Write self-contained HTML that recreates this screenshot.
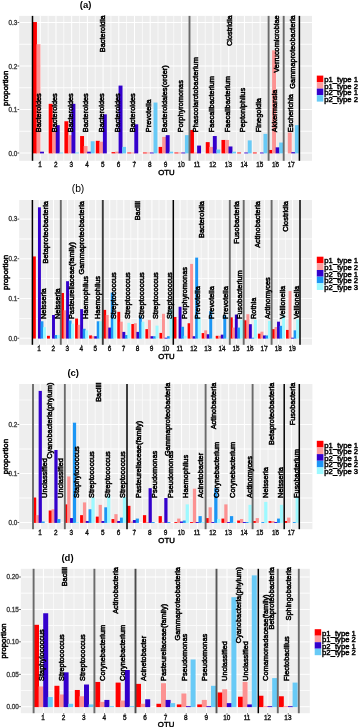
<!DOCTYPE html>
<html><head><meta charset="utf-8"><title>OTU proportions</title>
<style>
html,body{margin:0;padding:0;background:#fff;}
body{width:358px;height:727px;overflow:hidden;font-family:"Liberation Sans",sans-serif;}
svg{display:block;will-change:transform;}
svg text{font-family:"Liberation Sans",sans-serif;}
</style></head><body>
<svg width="358" height="727" viewBox="0 0 358 727">
<rect x="0" y="0" width="358" height="727" fill="#FFFFFF"/>
<!-- panel (a) -->
<rect x="19.2" y="15.9" width="292.8" height="144.9" fill="#ECECEC"/>
<rect x="19.2" y="130.85" width="292.8" height="0.8" fill="#FBFBFB"/>
<rect x="19.2" y="130.85" width="292.8" height="0.8" fill="#FBFBFB"/>
<rect x="19.2" y="87.35" width="292.8" height="0.8" fill="#FBFBFB"/>
<rect x="19.2" y="87.35" width="292.8" height="0.8" fill="#FBFBFB"/>
<rect x="19.2" y="43.85" width="292.8" height="0.8" fill="#FBFBFB"/>
<rect x="19.2" y="43.85" width="292.8" height="0.8" fill="#FBFBFB"/>
<rect x="32" y="15.9" width="0.8" height="144.9" fill="#FBFBFB"/>
<rect x="47.71" y="15.9" width="0.8" height="144.9" fill="#FBFBFB"/>
<rect x="63.41" y="15.9" width="0.8" height="144.9" fill="#FBFBFB"/>
<rect x="79.12" y="15.9" width="0.8" height="144.9" fill="#FBFBFB"/>
<rect x="94.82" y="15.9" width="0.8" height="144.9" fill="#FBFBFB"/>
<rect x="110.53" y="15.9" width="0.8" height="144.9" fill="#FBFBFB"/>
<rect x="126.24" y="15.9" width="0.8" height="144.9" fill="#FBFBFB"/>
<rect x="141.94" y="15.9" width="0.8" height="144.9" fill="#FBFBFB"/>
<rect x="157.65" y="15.9" width="0.8" height="144.9" fill="#FBFBFB"/>
<rect x="173.35" y="15.9" width="0.8" height="144.9" fill="#FBFBFB"/>
<rect x="189.06" y="15.9" width="0.8" height="144.9" fill="#FBFBFB"/>
<rect x="204.76" y="15.9" width="0.8" height="144.9" fill="#FBFBFB"/>
<rect x="220.47" y="15.9" width="0.8" height="144.9" fill="#FBFBFB"/>
<rect x="236.18" y="15.9" width="0.8" height="144.9" fill="#FBFBFB"/>
<rect x="251.88" y="15.9" width="0.8" height="144.9" fill="#FBFBFB"/>
<rect x="267.59" y="15.9" width="0.8" height="144.9" fill="#FBFBFB"/>
<rect x="283.29" y="15.9" width="0.8" height="144.9" fill="#FBFBFB"/>
<rect x="299" y="15.9" width="0.8" height="144.9" fill="#FBFBFB"/>
<rect x="19.2" y="152.5" width="292.8" height="1" fill="#FFFFFF"/>
<rect x="19.2" y="109" width="292.8" height="1" fill="#FFFFFF"/>
<rect x="19.2" y="65.5" width="292.8" height="1" fill="#FFFFFF"/>
<rect x="19.2" y="22" width="292.8" height="1" fill="#FFFFFF"/>
<rect x="39.75" y="15.9" width="1" height="144.9" fill="#FFFFFF"/>
<rect x="55.46" y="15.9" width="1" height="144.9" fill="#FFFFFF"/>
<rect x="71.16" y="15.9" width="1" height="144.9" fill="#FFFFFF"/>
<rect x="86.87" y="15.9" width="1" height="144.9" fill="#FFFFFF"/>
<rect x="102.58" y="15.9" width="1" height="144.9" fill="#FFFFFF"/>
<rect x="118.28" y="15.9" width="1" height="144.9" fill="#FFFFFF"/>
<rect x="133.99" y="15.9" width="1" height="144.9" fill="#FFFFFF"/>
<rect x="149.69" y="15.9" width="1" height="144.9" fill="#FFFFFF"/>
<rect x="165.4" y="15.9" width="1" height="144.9" fill="#FFFFFF"/>
<rect x="181.11" y="15.9" width="1" height="144.9" fill="#FFFFFF"/>
<rect x="196.81" y="15.9" width="1" height="144.9" fill="#FFFFFF"/>
<rect x="212.52" y="15.9" width="1" height="144.9" fill="#FFFFFF"/>
<rect x="228.22" y="15.9" width="1" height="144.9" fill="#FFFFFF"/>
<rect x="243.93" y="15.9" width="1" height="144.9" fill="#FFFFFF"/>
<rect x="259.64" y="15.9" width="1" height="144.9" fill="#FFFFFF"/>
<rect x="275.34" y="15.9" width="1" height="144.9" fill="#FFFFFF"/>
<rect x="291.05" y="15.9" width="1" height="144.9" fill="#FFFFFF"/>
<rect x="32.99" y="22.06" width="3.93" height="131.34" fill="#FF0000"/>
<rect x="36.52" y="44.25" width="3.93" height="109.15" fill="#FC9292"/>
<rect x="40.05" y="151.69" width="3.93" height="1.71" fill="#3300CC"/>
<rect x="48.69" y="103.84" width="3.93" height="49.55" fill="#FF0000"/>
<rect x="52.22" y="131.25" width="3.93" height="22.15" fill="#FC9292"/>
<rect x="55.76" y="125.16" width="3.93" height="28.24" fill="#3300CC"/>
<rect x="59.29" y="152.5" width="3.93" height="0.9" fill="#68CAF6"/>
<rect x="64.4" y="121.25" width="3.93" height="32.15" fill="#FF0000"/>
<rect x="67.93" y="135.16" width="3.93" height="18.24" fill="#FC9292"/>
<rect x="71.46" y="103.84" width="3.93" height="49.55" fill="#3300CC"/>
<rect x="75" y="152.5" width="3.93" height="0.9" fill="#68CAF6"/>
<rect x="80.1" y="136.03" width="3.93" height="17.37" fill="#FF0000"/>
<rect x="83.64" y="146.04" width="3.93" height="7.36" fill="#FC9292"/>
<rect x="87.17" y="151.69" width="3.93" height="1.71" fill="#3300CC"/>
<rect x="90.7" y="141.25" width="3.93" height="12.15" fill="#68CAF6"/>
<rect x="95.81" y="140.82" width="3.93" height="12.58" fill="#FF0000"/>
<rect x="99.34" y="141.69" width="3.93" height="11.71" fill="#FC9292"/>
<rect x="102.88" y="114.28" width="3.93" height="39.12" fill="#3300CC"/>
<rect x="111.51" y="152.13" width="3.93" height="1.27" fill="#FF0000"/>
<rect x="115.05" y="151.69" width="3.93" height="1.71" fill="#FC9292"/>
<rect x="118.58" y="85.58" width="3.93" height="67.83" fill="#3300CC"/>
<rect x="122.12" y="146.91" width="3.93" height="6.49" fill="#68CAF6"/>
<rect x="127.22" y="152.5" width="3.93" height="0.9" fill="#FF0000"/>
<rect x="130.75" y="152.5" width="3.93" height="0.9" fill="#FC9292"/>
<rect x="134.29" y="124.29" width="3.93" height="29.11" fill="#3300CC"/>
<rect x="142.93" y="152.5" width="3.93" height="0.9" fill="#FF0000"/>
<rect x="146.46" y="152.5" width="3.93" height="0.9" fill="#FC9292"/>
<rect x="149.99" y="152.5" width="3.93" height="0.9" fill="#3300CC"/>
<rect x="153.53" y="102.54" width="3.93" height="50.86" fill="#68CAF6"/>
<rect x="158.63" y="146.91" width="3.93" height="6.49" fill="#FF0000"/>
<rect x="162.17" y="136.91" width="3.93" height="16.49" fill="#FC9292"/>
<rect x="165.7" y="135.16" width="3.93" height="18.24" fill="#3300CC"/>
<rect x="169.23" y="151.69" width="3.93" height="1.71" fill="#68CAF6"/>
<rect x="174.34" y="152.5" width="3.93" height="0.9" fill="#FF0000"/>
<rect x="177.87" y="152.5" width="3.93" height="0.9" fill="#FC9292"/>
<rect x="181.41" y="152.5" width="3.93" height="0.9" fill="#3300CC"/>
<rect x="184.94" y="135.16" width="3.93" height="18.24" fill="#68CAF6"/>
<rect x="190.04" y="129.94" width="3.93" height="23.46" fill="#FF0000"/>
<rect x="193.58" y="152.5" width="3.93" height="0.9" fill="#FC9292"/>
<rect x="197.11" y="145.6" width="3.93" height="7.8" fill="#3300CC"/>
<rect x="205.75" y="142.12" width="3.93" height="11.28" fill="#FF0000"/>
<rect x="209.28" y="146.91" width="3.93" height="6.49" fill="#FC9292"/>
<rect x="212.82" y="136.03" width="3.93" height="17.37" fill="#3300CC"/>
<rect x="216.35" y="149.52" width="3.93" height="3.88" fill="#68CAF6"/>
<rect x="221.46" y="139.95" width="3.93" height="13.45" fill="#FF0000"/>
<rect x="224.99" y="139.95" width="3.93" height="13.45" fill="#FC9292"/>
<rect x="228.52" y="146.47" width="3.93" height="6.93" fill="#3300CC"/>
<rect x="232.06" y="151.69" width="3.93" height="1.71" fill="#68CAF6"/>
<rect x="237.16" y="152.5" width="3.93" height="0.9" fill="#FF0000"/>
<rect x="244.23" y="152.5" width="3.93" height="0.9" fill="#3300CC"/>
<rect x="247.76" y="140.38" width="3.93" height="13.02" fill="#68CAF6"/>
<rect x="252.87" y="152.5" width="3.93" height="0.9" fill="#FF0000"/>
<rect x="259.94" y="152.5" width="3.93" height="0.9" fill="#3300CC"/>
<rect x="263.47" y="133.86" width="3.93" height="19.54" fill="#68CAF6"/>
<rect x="268.57" y="149.96" width="3.93" height="3.44" fill="#FF0000"/>
<rect x="272.11" y="50.34" width="3.93" height="103.06" fill="#FC9292"/>
<rect x="275.64" y="147.34" width="3.93" height="6.06" fill="#3300CC"/>
<rect x="279.18" y="142.56" width="3.93" height="10.84" fill="#68CAF6"/>
<rect x="287.81" y="132.56" width="3.93" height="20.84" fill="#FC9292"/>
<rect x="291.35" y="152.13" width="3.93" height="1.27" fill="#3300CC"/>
<rect x="294.88" y="125.16" width="3.93" height="28.24" fill="#68CAF6"/>
<rect x="31.75" y="15.9" width="1.5" height="144.9" fill="#000000"/>
<rect x="188.55" y="15.9" width="1.9" height="144.9" fill="#6A6A6A"/>
<rect x="267.65" y="15.9" width="1.9" height="144.9" fill="#6A6A6A"/>
<rect x="282.75" y="15.9" width="1.9" height="144.9" fill="#6A6A6A"/>
<rect x="298.65" y="15.9" width="1.5" height="144.9" fill="#000000"/>
<text transform="translate(38.55 132.15) rotate(-90)" text-anchor="start" font-size="7.38" fill="#000" stroke="#000" stroke-width="0.5" dy="0.36em">Bacteroides</text>
<text transform="translate(54.26 132.15) rotate(-90)" text-anchor="start" font-size="7.38" fill="#000" stroke="#000" stroke-width="0.5" dy="0.36em">Bacteroides</text>
<text transform="translate(69.96 132.15) rotate(-90)" text-anchor="start" font-size="7.38" fill="#000" stroke="#000" stroke-width="0.5" dy="0.36em">Bacteroides</text>
<text transform="translate(85.67 132.15) rotate(-90)" text-anchor="start" font-size="7.38" fill="#000" stroke="#000" stroke-width="0.5" dy="0.36em">Bacteroides</text>
<text transform="translate(101.38 132.15) rotate(-90)" text-anchor="start" font-size="7.38" fill="#000" stroke="#000" stroke-width="0.5" dy="0.36em">Bacteroides</text>
<text transform="translate(117.08 132.15) rotate(-90)" text-anchor="start" font-size="7.38" fill="#000" stroke="#000" stroke-width="0.5" dy="0.36em">Bacteroides</text>
<text transform="translate(132.79 132.15) rotate(-90)" text-anchor="start" font-size="7.38" fill="#000" stroke="#000" stroke-width="0.5" dy="0.36em">Bacteroides</text>
<text transform="translate(148.49 132.15) rotate(-90)" text-anchor="start" font-size="7.38" fill="#000" stroke="#000" stroke-width="0.5" dy="0.36em">Prevotella</text>
<text transform="translate(164.2 132.15) rotate(-90)" text-anchor="start" font-size="7.38" fill="#000" stroke="#000" stroke-width="0.5" dy="0.36em">Bacteroidales(order)</text>
<text transform="translate(179.91 132.15) rotate(-90)" text-anchor="start" font-size="7.38" fill="#000" stroke="#000" stroke-width="0.5" dy="0.36em">Porphyromonas</text>
<text transform="translate(195.61 132.15) rotate(-90)" text-anchor="start" font-size="7.38" fill="#000" stroke="#000" stroke-width="0.5" dy="0.36em">Phascolarctobacterium</text>
<text transform="translate(211.32 132.15) rotate(-90)" text-anchor="start" font-size="7.38" fill="#000" stroke="#000" stroke-width="0.5" dy="0.36em">Faecalibacterium</text>
<text transform="translate(227.02 132.15) rotate(-90)" text-anchor="start" font-size="7.38" fill="#000" stroke="#000" stroke-width="0.5" dy="0.36em">Faecalibacterium</text>
<text transform="translate(242.73 132.15) rotate(-90)" text-anchor="start" font-size="7.38" fill="#000" stroke="#000" stroke-width="0.5" dy="0.36em">Peptoniphilus</text>
<text transform="translate(258.44 132.15) rotate(-90)" text-anchor="start" font-size="7.38" fill="#000" stroke="#000" stroke-width="0.5" dy="0.36em">Finegoldia</text>
<text transform="translate(274.14 132.15) rotate(-90)" text-anchor="start" font-size="7.38" fill="#000" stroke="#000" stroke-width="0.5" dy="0.36em">Akkermansia</text>
<text transform="translate(289.85 132.15) rotate(-90)" text-anchor="start" font-size="7.38" fill="#000" stroke="#000" stroke-width="0.5" dy="0.36em">Escherichia</text>
<text transform="translate(102.8 15.3) rotate(-90)" text-anchor="end" font-size="7.38" fill="#000" stroke="#000" stroke-width="0.5" dy="0.36em">Bacteroidia</text>
<text transform="translate(229.3 15.3) rotate(-90)" text-anchor="end" font-size="7.38" fill="#000" stroke="#000" stroke-width="0.5" dy="0.36em">Clostridia</text>
<text transform="translate(275.9 15.3) rotate(-90)" text-anchor="end" font-size="7.38" fill="#000" stroke="#000" stroke-width="0.5" dy="0.36em">Verrucomicrobiae</text>
<text transform="translate(292.2 15.3) rotate(-90)" text-anchor="end" font-size="7.38" fill="#000" stroke="#000" stroke-width="0.5" dy="0.36em">Gammaproteobacteria</text>
<text x="17.3" y="153.6" text-anchor="end" font-size="6.4" fill="#444" stroke="#444" stroke-width="0.35" dy="0.36em">0.0</text>
<rect x="17.5" y="152.6" width="1.7" height="0.8" fill="#333"/>
<text x="17.3" y="110.1" text-anchor="end" font-size="6.4" fill="#444" stroke="#444" stroke-width="0.35" dy="0.36em">0.1</text>
<rect x="17.5" y="109.1" width="1.7" height="0.8" fill="#333"/>
<text x="17.3" y="66.6" text-anchor="end" font-size="6.4" fill="#444" stroke="#444" stroke-width="0.35" dy="0.36em">0.2</text>
<rect x="17.5" y="65.6" width="1.7" height="0.8" fill="#333"/>
<text x="17.3" y="23.1" text-anchor="end" font-size="6.4" fill="#444" stroke="#444" stroke-width="0.35" dy="0.36em">0.3</text>
<rect x="17.5" y="22.1" width="1.7" height="0.8" fill="#333"/>
<text x="39.95" y="164.4" text-anchor="middle" font-size="6.4" fill="#111" stroke="#111" stroke-width="0.35" dy="0.36em">1</text>
<rect x="39.85" y="160.8" width="0.8" height="1.5" fill="#333"/>
<text x="55.66" y="164.4" text-anchor="middle" font-size="6.4" fill="#111" stroke="#111" stroke-width="0.35" dy="0.36em">2</text>
<rect x="55.56" y="160.8" width="0.8" height="1.5" fill="#333"/>
<text x="71.36" y="164.4" text-anchor="middle" font-size="6.4" fill="#111" stroke="#111" stroke-width="0.35" dy="0.36em">3</text>
<rect x="71.26" y="160.8" width="0.8" height="1.5" fill="#333"/>
<text x="87.07" y="164.4" text-anchor="middle" font-size="6.4" fill="#111" stroke="#111" stroke-width="0.35" dy="0.36em">4</text>
<rect x="86.97" y="160.8" width="0.8" height="1.5" fill="#333"/>
<text x="102.78" y="164.4" text-anchor="middle" font-size="6.4" fill="#111" stroke="#111" stroke-width="0.35" dy="0.36em">5</text>
<rect x="102.68" y="160.8" width="0.8" height="1.5" fill="#333"/>
<text x="118.48" y="164.4" text-anchor="middle" font-size="6.4" fill="#111" stroke="#111" stroke-width="0.35" dy="0.36em">6</text>
<rect x="118.38" y="160.8" width="0.8" height="1.5" fill="#333"/>
<text x="134.19" y="164.4" text-anchor="middle" font-size="6.4" fill="#111" stroke="#111" stroke-width="0.35" dy="0.36em">7</text>
<rect x="134.09" y="160.8" width="0.8" height="1.5" fill="#333"/>
<text x="149.89" y="164.4" text-anchor="middle" font-size="6.4" fill="#111" stroke="#111" stroke-width="0.35" dy="0.36em">8</text>
<rect x="149.79" y="160.8" width="0.8" height="1.5" fill="#333"/>
<text x="165.6" y="164.4" text-anchor="middle" font-size="6.4" fill="#111" stroke="#111" stroke-width="0.35" dy="0.36em">9</text>
<rect x="165.5" y="160.8" width="0.8" height="1.5" fill="#333"/>
<text x="181.31" y="164.4" text-anchor="middle" font-size="6.4" fill="#111" stroke="#111" stroke-width="0.35" dy="0.36em">10</text>
<rect x="181.21" y="160.8" width="0.8" height="1.5" fill="#333"/>
<text x="197.01" y="164.4" text-anchor="middle" font-size="6.4" fill="#111" stroke="#111" stroke-width="0.35" dy="0.36em">11</text>
<rect x="196.91" y="160.8" width="0.8" height="1.5" fill="#333"/>
<text x="212.72" y="164.4" text-anchor="middle" font-size="6.4" fill="#111" stroke="#111" stroke-width="0.35" dy="0.36em">12</text>
<rect x="212.62" y="160.8" width="0.8" height="1.5" fill="#333"/>
<text x="228.42" y="164.4" text-anchor="middle" font-size="6.4" fill="#111" stroke="#111" stroke-width="0.35" dy="0.36em">13</text>
<rect x="228.32" y="160.8" width="0.8" height="1.5" fill="#333"/>
<text x="244.13" y="164.4" text-anchor="middle" font-size="6.4" fill="#111" stroke="#111" stroke-width="0.35" dy="0.36em">14</text>
<rect x="244.03" y="160.8" width="0.8" height="1.5" fill="#333"/>
<text x="259.84" y="164.4" text-anchor="middle" font-size="6.4" fill="#111" stroke="#111" stroke-width="0.35" dy="0.36em">15</text>
<rect x="259.74" y="160.8" width="0.8" height="1.5" fill="#333"/>
<text x="275.54" y="164.4" text-anchor="middle" font-size="6.4" fill="#111" stroke="#111" stroke-width="0.35" dy="0.36em">16</text>
<rect x="275.44" y="160.8" width="0.8" height="1.5" fill="#333"/>
<text x="291.25" y="164.4" text-anchor="middle" font-size="6.4" fill="#111" stroke="#111" stroke-width="0.35" dy="0.36em">17</text>
<rect x="291.15" y="160.8" width="0.8" height="1.5" fill="#333"/>
<text x="166.4" y="171.7" text-anchor="middle" font-size="7.8" fill="#000" stroke="#000" stroke-width="0.45" dy="0.36em">OTU</text>
<text transform="translate(5.2 88.35) rotate(-90)" text-anchor="middle" font-size="7.8" fill="#000" stroke="#000" stroke-width="0.5" dy="0.36em">proportion</text>
<text x="85.6" y="5" text-anchor="middle" font-family="'Liberation Serif', serif" font-weight="bold" font-size="9.5" dy="0.33em">(a)</text>
<rect x="316.8" y="75.6" width="6.5" height="6.5" fill="#FF0000"/>
<text x="324.2" y="79.45" text-anchor="start" font-size="7.7" fill="#000" stroke="#000" stroke-width="0.45" dy="0.36em">p1_type 1</text>
<rect x="316.8" y="82.1" width="6.5" height="6.5" fill="#FF9E9E"/>
<text x="324.2" y="85.95" text-anchor="start" font-size="7.7" fill="#000" stroke="#000" stroke-width="0.45" dy="0.36em">p1_type 2</text>
<rect x="316.8" y="88.6" width="6.5" height="6.5" fill="#3300CC"/>
<text x="324.2" y="92.45" text-anchor="start" font-size="7.7" fill="#000" stroke="#000" stroke-width="0.45" dy="0.36em">p2_type 1</text>
<rect x="316.8" y="95.1" width="6.5" height="6.5" fill="#68CAF6"/>
<text x="324.2" y="98.95" text-anchor="start" font-size="7.7" fill="#000" stroke="#000" stroke-width="0.45" dy="0.36em">p2_type 2</text>
<!-- panel (b) -->
<rect x="19.2" y="200" width="292.8" height="144.8" fill="#EEEEEE"/>
<rect x="19.2" y="317.95" width="292.8" height="0.8" fill="#FBFBFB"/>
<rect x="19.2" y="317.95" width="292.8" height="0.8" fill="#FBFBFB"/>
<rect x="19.2" y="278.25" width="292.8" height="0.8" fill="#FBFBFB"/>
<rect x="19.2" y="278.25" width="292.8" height="0.8" fill="#FBFBFB"/>
<rect x="19.2" y="238.55" width="292.8" height="0.8" fill="#FBFBFB"/>
<rect x="19.2" y="238.55" width="292.8" height="0.8" fill="#FBFBFB"/>
<rect x="32" y="200" width="0.8" height="144.8" fill="#FBFBFB"/>
<rect x="46.06" y="200" width="0.8" height="144.8" fill="#FBFBFB"/>
<rect x="60.13" y="200" width="0.8" height="144.8" fill="#FBFBFB"/>
<rect x="74.19" y="200" width="0.8" height="144.8" fill="#FBFBFB"/>
<rect x="88.25" y="200" width="0.8" height="144.8" fill="#FBFBFB"/>
<rect x="102.32" y="200" width="0.8" height="144.8" fill="#FBFBFB"/>
<rect x="116.38" y="200" width="0.8" height="144.8" fill="#FBFBFB"/>
<rect x="130.44" y="200" width="0.8" height="144.8" fill="#FBFBFB"/>
<rect x="144.51" y="200" width="0.8" height="144.8" fill="#FBFBFB"/>
<rect x="158.57" y="200" width="0.8" height="144.8" fill="#FBFBFB"/>
<rect x="172.63" y="200" width="0.8" height="144.8" fill="#FBFBFB"/>
<rect x="186.69" y="200" width="0.8" height="144.8" fill="#FBFBFB"/>
<rect x="200.76" y="200" width="0.8" height="144.8" fill="#FBFBFB"/>
<rect x="214.82" y="200" width="0.8" height="144.8" fill="#FBFBFB"/>
<rect x="228.88" y="200" width="0.8" height="144.8" fill="#FBFBFB"/>
<rect x="242.95" y="200" width="0.8" height="144.8" fill="#FBFBFB"/>
<rect x="257.01" y="200" width="0.8" height="144.8" fill="#FBFBFB"/>
<rect x="271.07" y="200" width="0.8" height="144.8" fill="#FBFBFB"/>
<rect x="285.14" y="200" width="0.8" height="144.8" fill="#FBFBFB"/>
<rect x="299.2" y="200" width="0.8" height="144.8" fill="#FBFBFB"/>
<rect x="19.2" y="337.7" width="292.8" height="1" fill="#FFFFFF"/>
<rect x="19.2" y="298" width="292.8" height="1" fill="#FFFFFF"/>
<rect x="19.2" y="258.3" width="292.8" height="1" fill="#FFFFFF"/>
<rect x="19.2" y="218.6" width="292.8" height="1" fill="#FFFFFF"/>
<rect x="38.93" y="200" width="1" height="144.8" fill="#FFFFFF"/>
<rect x="52.99" y="200" width="1" height="144.8" fill="#FFFFFF"/>
<rect x="67.06" y="200" width="1" height="144.8" fill="#FFFFFF"/>
<rect x="81.12" y="200" width="1" height="144.8" fill="#FFFFFF"/>
<rect x="95.18" y="200" width="1" height="144.8" fill="#FFFFFF"/>
<rect x="109.25" y="200" width="1" height="144.8" fill="#FFFFFF"/>
<rect x="123.31" y="200" width="1" height="144.8" fill="#FFFFFF"/>
<rect x="137.37" y="200" width="1" height="144.8" fill="#FFFFFF"/>
<rect x="151.44" y="200" width="1" height="144.8" fill="#FFFFFF"/>
<rect x="165.5" y="200" width="1" height="144.8" fill="#FFFFFF"/>
<rect x="179.56" y="200" width="1" height="144.8" fill="#FFFFFF"/>
<rect x="193.63" y="200" width="1" height="144.8" fill="#FFFFFF"/>
<rect x="207.69" y="200" width="1" height="144.8" fill="#FFFFFF"/>
<rect x="221.75" y="200" width="1" height="144.8" fill="#FFFFFF"/>
<rect x="235.82" y="200" width="1" height="144.8" fill="#FFFFFF"/>
<rect x="249.88" y="200" width="1" height="144.8" fill="#FFFFFF"/>
<rect x="263.94" y="200" width="1" height="144.8" fill="#FFFFFF"/>
<rect x="278.01" y="200" width="1" height="144.8" fill="#FFFFFF"/>
<rect x="292.07" y="200" width="1" height="144.8" fill="#FFFFFF"/>
<rect x="32.9" y="256.44" width="2.93" height="82.16" fill="#FF0000"/>
<rect x="37.97" y="207.31" width="2.93" height="131.29" fill="#3300CC"/>
<rect x="40.5" y="321.28" width="2.93" height="17.32" fill="#1C96F5"/>
<rect x="43.03" y="327.18" width="2.93" height="11.42" fill="#9DF9FF"/>
<rect x="46.97" y="335.82" width="2.93" height="2.78" fill="#FF0000"/>
<rect x="52.03" y="314.99" width="2.93" height="23.61" fill="#3300CC"/>
<rect x="54.56" y="335.04" width="2.93" height="3.56" fill="#1C96F5"/>
<rect x="57.09" y="335.04" width="2.93" height="3.56" fill="#9DF9FF"/>
<rect x="61.03" y="292.98" width="2.93" height="45.62" fill="#FF0000"/>
<rect x="63.56" y="310.28" width="2.93" height="28.32" fill="#FC9292"/>
<rect x="66.09" y="281.19" width="2.93" height="57.41" fill="#3300CC"/>
<rect x="68.62" y="320.49" width="2.93" height="18.11" fill="#1C96F5"/>
<rect x="71.15" y="323.64" width="2.93" height="14.96" fill="#9DF9FF"/>
<rect x="75.09" y="318.53" width="2.93" height="20.07" fill="#FF0000"/>
<rect x="77.62" y="324.82" width="2.93" height="13.78" fill="#FC9292"/>
<rect x="80.16" y="309.1" width="2.93" height="29.5" fill="#3300CC"/>
<rect x="82.69" y="328.75" width="2.93" height="9.85" fill="#1C96F5"/>
<rect x="85.22" y="330.32" width="2.93" height="8.28" fill="#9DF9FF"/>
<rect x="89.16" y="335.43" width="2.93" height="3.17" fill="#FF0000"/>
<rect x="91.69" y="336.21" width="2.93" height="2.39" fill="#FC9292"/>
<rect x="94.22" y="336.21" width="2.93" height="2.39" fill="#3300CC"/>
<rect x="96.75" y="321.28" width="2.93" height="17.32" fill="#1C96F5"/>
<rect x="99.28" y="321.28" width="2.93" height="17.32" fill="#9DF9FF"/>
<rect x="103.22" y="309.88" width="2.93" height="28.72" fill="#FF0000"/>
<rect x="105.75" y="314.99" width="2.93" height="23.61" fill="#FC9292"/>
<rect x="108.28" y="327.57" width="2.93" height="11.03" fill="#3300CC"/>
<rect x="110.81" y="292.59" width="2.93" height="46.01" fill="#1C96F5"/>
<rect x="113.34" y="317.35" width="2.93" height="21.25" fill="#9DF9FF"/>
<rect x="117.28" y="311.85" width="2.93" height="26.75" fill="#FF0000"/>
<rect x="119.81" y="321.67" width="2.93" height="16.93" fill="#FC9292"/>
<rect x="122.34" y="331.89" width="2.93" height="6.71" fill="#3300CC"/>
<rect x="124.88" y="335.04" width="2.93" height="3.56" fill="#1C96F5"/>
<rect x="127.41" y="322.85" width="2.93" height="15.75" fill="#9DF9FF"/>
<rect x="131.35" y="324.03" width="2.93" height="14.57" fill="#FF0000"/>
<rect x="133.88" y="323.25" width="2.93" height="15.35" fill="#FC9292"/>
<rect x="136.41" y="331.89" width="2.93" height="6.71" fill="#3300CC"/>
<rect x="138.94" y="316.17" width="2.93" height="22.43" fill="#1C96F5"/>
<rect x="141.47" y="321.67" width="2.93" height="16.93" fill="#9DF9FF"/>
<rect x="145.41" y="329.14" width="2.93" height="9.46" fill="#FF0000"/>
<rect x="147.94" y="320.1" width="2.93" height="18.5" fill="#FC9292"/>
<rect x="150.47" y="336.21" width="2.93" height="2.39" fill="#3300CC"/>
<rect x="153" y="336.21" width="2.93" height="2.39" fill="#1C96F5"/>
<rect x="155.53" y="325.6" width="2.93" height="13" fill="#9DF9FF"/>
<rect x="159.47" y="332.91" width="2.93" height="5.69" fill="#FF0000"/>
<rect x="162" y="313.81" width="2.93" height="24.79" fill="#FC9292"/>
<rect x="164.53" y="337.7" width="2.93" height="0.9" fill="#3300CC"/>
<rect x="167.07" y="336.21" width="2.93" height="2.39" fill="#1C96F5"/>
<rect x="169.6" y="309.29" width="2.93" height="29.31" fill="#9DF9FF"/>
<rect x="173.53" y="316.96" width="2.93" height="21.64" fill="#FF0000"/>
<rect x="178.6" y="306.74" width="2.93" height="31.86" fill="#3300CC"/>
<rect x="181.13" y="326.78" width="2.93" height="11.82" fill="#1C96F5"/>
<rect x="183.66" y="335.82" width="2.93" height="2.78" fill="#9DF9FF"/>
<rect x="187.6" y="323.25" width="2.93" height="15.35" fill="#FF0000"/>
<rect x="190.13" y="263.9" width="2.93" height="74.7" fill="#FC9292"/>
<rect x="192.66" y="336.21" width="2.93" height="2.39" fill="#3300CC"/>
<rect x="195.19" y="257.61" width="2.93" height="80.99" fill="#1C96F5"/>
<rect x="197.72" y="317.35" width="2.93" height="21.25" fill="#9DF9FF"/>
<rect x="201.66" y="333.07" width="2.93" height="5.53" fill="#FF0000"/>
<rect x="204.19" y="330.32" width="2.93" height="8.28" fill="#FC9292"/>
<rect x="206.72" y="334.25" width="2.93" height="4.35" fill="#3300CC"/>
<rect x="209.26" y="311.06" width="2.93" height="27.54" fill="#1C96F5"/>
<rect x="211.79" y="337.7" width="2.93" height="0.9" fill="#9DF9FF"/>
<rect x="215.72" y="335.82" width="2.93" height="2.78" fill="#FF0000"/>
<rect x="218.26" y="335.82" width="2.93" height="2.78" fill="#FC9292"/>
<rect x="220.79" y="334.64" width="2.93" height="3.96" fill="#3300CC"/>
<rect x="223.32" y="314.99" width="2.93" height="23.61" fill="#1C96F5"/>
<rect x="225.85" y="337.7" width="2.93" height="0.9" fill="#9DF9FF"/>
<rect x="229.79" y="317.35" width="2.93" height="21.25" fill="#FF0000"/>
<rect x="232.32" y="327.57" width="2.93" height="11.03" fill="#FC9292"/>
<rect x="234.85" y="314.6" width="2.93" height="24" fill="#3300CC"/>
<rect x="237.38" y="327.57" width="2.93" height="11.03" fill="#1C96F5"/>
<rect x="239.91" y="320.1" width="2.93" height="18.5" fill="#9DF9FF"/>
<rect x="243.85" y="320.3" width="2.93" height="18.3" fill="#FF0000"/>
<rect x="246.38" y="314.21" width="2.93" height="24.39" fill="#FC9292"/>
<rect x="248.91" y="324.19" width="2.93" height="14.41" fill="#3300CC"/>
<rect x="251.44" y="337.7" width="2.93" height="0.9" fill="#1C96F5"/>
<rect x="253.98" y="319.71" width="2.93" height="18.89" fill="#9DF9FF"/>
<rect x="257.91" y="333.66" width="2.93" height="4.94" fill="#FF0000"/>
<rect x="260.45" y="331.69" width="2.93" height="6.91" fill="#FC9292"/>
<rect x="262.98" y="335.43" width="2.93" height="3.17" fill="#3300CC"/>
<rect x="265.51" y="335.43" width="2.93" height="3.17" fill="#1C96F5"/>
<rect x="268.04" y="320.89" width="2.93" height="17.71" fill="#9DF9FF"/>
<rect x="271.98" y="329.14" width="2.93" height="9.46" fill="#FF0000"/>
<rect x="274.51" y="327.02" width="2.93" height="11.58" fill="#FC9292"/>
<rect x="277.04" y="321.67" width="2.93" height="16.93" fill="#3300CC"/>
<rect x="279.57" y="325.8" width="2.93" height="12.8" fill="#1C96F5"/>
<rect x="282.1" y="314.99" width="2.93" height="23.61" fill="#9DF9FF"/>
<rect x="286.04" y="329.93" width="2.93" height="8.67" fill="#FF0000"/>
<rect x="288.57" y="291.02" width="2.93" height="47.58" fill="#FC9292"/>
<rect x="291.1" y="337.7" width="2.93" height="0.9" fill="#3300CC"/>
<rect x="293.63" y="330.32" width="2.93" height="8.28" fill="#1C96F5"/>
<rect x="296.17" y="319.31" width="2.93" height="19.28" fill="#9DF9FF"/>
<rect x="31.65" y="200" width="1.5" height="144.8" fill="#000000"/>
<rect x="59.85" y="200" width="1.9" height="144.8" fill="#6A6A6A"/>
<rect x="101.85" y="200" width="1.9" height="144.8" fill="#3A3A3A"/>
<rect x="172.55" y="200" width="1.5" height="144.8" fill="#000000"/>
<rect x="228.85" y="200" width="1.9" height="144.8" fill="#6A6A6A"/>
<rect x="242.75" y="200" width="1.9" height="144.8" fill="#6A6A6A"/>
<rect x="270.65" y="200" width="1.9" height="144.8" fill="#6A6A6A"/>
<rect x="299.25" y="200" width="1.5" height="144.8" fill="#000000"/>
<text transform="translate(43.23 319.05) rotate(-90)" text-anchor="start" font-size="7.38" fill="#000" stroke="#000" stroke-width="0.5" dy="0.36em">Neisseria</text>
<text transform="translate(57.29 319.05) rotate(-90)" text-anchor="start" font-size="7.38" fill="#000" stroke="#000" stroke-width="0.5" dy="0.36em">Neisseria</text>
<text transform="translate(71.36 319.05) rotate(-90)" text-anchor="start" font-size="7.38" fill="#000" stroke="#000" stroke-width="0.5" dy="0.36em">Pasteurellaceae(family)</text>
<text transform="translate(85.22 319.05) rotate(-90)" text-anchor="start" font-size="7.38" fill="#000" stroke="#000" stroke-width="0.5" dy="0.36em">Haemophilus</text>
<text transform="translate(97.18 319.05) rotate(-90)" text-anchor="start" font-size="7.38" fill="#000" stroke="#000" stroke-width="0.5" dy="0.36em">Haemophilus</text>
<text transform="translate(113.35 319.05) rotate(-90)" text-anchor="start" font-size="7.38" fill="#000" stroke="#000" stroke-width="0.5" dy="0.36em">Streptococcus</text>
<text transform="translate(127.61 319.05) rotate(-90)" text-anchor="start" font-size="7.38" fill="#000" stroke="#000" stroke-width="0.5" dy="0.36em">Streptococcus</text>
<text transform="translate(141.77 319.05) rotate(-90)" text-anchor="start" font-size="7.38" fill="#000" stroke="#000" stroke-width="0.5" dy="0.36em">Streptococcus</text>
<text transform="translate(155.64 319.05) rotate(-90)" text-anchor="start" font-size="7.38" fill="#000" stroke="#000" stroke-width="0.5" dy="0.36em">Streptococcus</text>
<text transform="translate(169.7 319.05) rotate(-90)" text-anchor="start" font-size="7.38" fill="#000" stroke="#000" stroke-width="0.5" dy="0.36em">Streptococcus</text>
<text transform="translate(184.26 319.05) rotate(-90)" text-anchor="start" font-size="7.38" fill="#000" stroke="#000" stroke-width="0.5" dy="0.36em">Porphyromonas</text>
<text transform="translate(197.03 319.05) rotate(-90)" text-anchor="start" font-size="7.38" fill="#000" stroke="#000" stroke-width="0.5" dy="0.36em">Prevotella</text>
<text transform="translate(210.89 319.05) rotate(-90)" text-anchor="start" font-size="7.38" fill="#000" stroke="#000" stroke-width="0.5" dy="0.36em">Prevotella</text>
<text transform="translate(225.25 319.05) rotate(-90)" text-anchor="start" font-size="7.38" fill="#000" stroke="#000" stroke-width="0.5" dy="0.36em">Prevotella</text>
<text transform="translate(239.82 319.05) rotate(-90)" text-anchor="start" font-size="7.38" fill="#000" stroke="#000" stroke-width="0.5" dy="0.36em">Fusobacterium</text>
<text transform="translate(253.58 319.05) rotate(-90)" text-anchor="start" font-size="7.38" fill="#000" stroke="#000" stroke-width="0.5" dy="0.36em">Rothia</text>
<text transform="translate(267.74 319.05) rotate(-90)" text-anchor="start" font-size="7.38" fill="#000" stroke="#000" stroke-width="0.5" dy="0.36em">Actinomyces</text>
<text transform="translate(282.21 319.05) rotate(-90)" text-anchor="start" font-size="7.38" fill="#000" stroke="#000" stroke-width="0.5" dy="0.36em">Veillonella</text>
<text transform="translate(296.57 319.05) rotate(-90)" text-anchor="start" font-size="7.38" fill="#000" stroke="#000" stroke-width="0.5" dy="0.36em">Veillonella</text>
<text transform="translate(45.7 201.1) rotate(-90)" text-anchor="end" font-size="7.38" fill="#000" stroke="#000" stroke-width="0.5" dy="0.36em">Betaproteobacteria</text>
<text transform="translate(81.3 201.1) rotate(-90)" text-anchor="end" font-size="7.38" fill="#000" stroke="#000" stroke-width="0.5" dy="0.36em">Gammaproteobacteria</text>
<text transform="translate(137.5 201.1) rotate(-90)" text-anchor="end" font-size="7.38" fill="#000" stroke="#000" stroke-width="0.5" dy="0.36em">Bacilli</text>
<text transform="translate(201 201.1) rotate(-90)" text-anchor="end" font-size="7.38" fill="#000" stroke="#000" stroke-width="0.5" dy="0.36em">Bacteroidia</text>
<text transform="translate(236.1 201.1) rotate(-90)" text-anchor="end" font-size="7.38" fill="#000" stroke="#000" stroke-width="0.5" dy="0.36em">Fusobacteria</text>
<text transform="translate(257.1 201.1) rotate(-90)" text-anchor="end" font-size="7.38" fill="#000" stroke="#000" stroke-width="0.5" dy="0.36em">Actinobacteria</text>
<text transform="translate(285.3 201.1) rotate(-90)" text-anchor="end" font-size="7.38" fill="#000" stroke="#000" stroke-width="0.5" dy="0.36em">Clostridia</text>
<text x="17.3" y="338.2" text-anchor="end" font-size="6.4" fill="#444" stroke="#444" stroke-width="0.35" dy="0.36em">0.0</text>
<rect x="17.5" y="337.8" width="1.7" height="0.8" fill="#333"/>
<text x="17.3" y="298.5" text-anchor="end" font-size="6.4" fill="#444" stroke="#444" stroke-width="0.35" dy="0.36em">0.1</text>
<rect x="17.5" y="298.1" width="1.7" height="0.8" fill="#333"/>
<text x="17.3" y="258.8" text-anchor="end" font-size="6.4" fill="#444" stroke="#444" stroke-width="0.35" dy="0.36em">0.2</text>
<rect x="17.5" y="258.4" width="1.7" height="0.8" fill="#333"/>
<text x="17.3" y="219.1" text-anchor="end" font-size="6.4" fill="#444" stroke="#444" stroke-width="0.35" dy="0.36em">0.3</text>
<rect x="17.5" y="218.7" width="1.7" height="0.8" fill="#333"/>
<text x="39.13" y="348.7" text-anchor="middle" font-size="6.4" fill="#111" stroke="#111" stroke-width="0.35" dy="0.36em">1</text>
<rect x="39.03" y="344.8" width="0.8" height="1.5" fill="#333"/>
<text x="53.19" y="348.7" text-anchor="middle" font-size="6.4" fill="#111" stroke="#111" stroke-width="0.35" dy="0.36em">2</text>
<rect x="53.09" y="344.8" width="0.8" height="1.5" fill="#333"/>
<text x="67.26" y="348.7" text-anchor="middle" font-size="6.4" fill="#111" stroke="#111" stroke-width="0.35" dy="0.36em">3</text>
<rect x="67.16" y="344.8" width="0.8" height="1.5" fill="#333"/>
<text x="81.32" y="348.7" text-anchor="middle" font-size="6.4" fill="#111" stroke="#111" stroke-width="0.35" dy="0.36em">4</text>
<rect x="81.22" y="344.8" width="0.8" height="1.5" fill="#333"/>
<text x="95.38" y="348.7" text-anchor="middle" font-size="6.4" fill="#111" stroke="#111" stroke-width="0.35" dy="0.36em">5</text>
<rect x="95.28" y="344.8" width="0.8" height="1.5" fill="#333"/>
<text x="109.45" y="348.7" text-anchor="middle" font-size="6.4" fill="#111" stroke="#111" stroke-width="0.35" dy="0.36em">6</text>
<rect x="109.35" y="344.8" width="0.8" height="1.5" fill="#333"/>
<text x="123.51" y="348.7" text-anchor="middle" font-size="6.4" fill="#111" stroke="#111" stroke-width="0.35" dy="0.36em">7</text>
<rect x="123.41" y="344.8" width="0.8" height="1.5" fill="#333"/>
<text x="137.57" y="348.7" text-anchor="middle" font-size="6.4" fill="#111" stroke="#111" stroke-width="0.35" dy="0.36em">8</text>
<rect x="137.47" y="344.8" width="0.8" height="1.5" fill="#333"/>
<text x="151.64" y="348.7" text-anchor="middle" font-size="6.4" fill="#111" stroke="#111" stroke-width="0.35" dy="0.36em">9</text>
<rect x="151.54" y="344.8" width="0.8" height="1.5" fill="#333"/>
<text x="165.7" y="348.7" text-anchor="middle" font-size="6.4" fill="#111" stroke="#111" stroke-width="0.35" dy="0.36em">10</text>
<rect x="165.6" y="344.8" width="0.8" height="1.5" fill="#333"/>
<text x="179.76" y="348.7" text-anchor="middle" font-size="6.4" fill="#111" stroke="#111" stroke-width="0.35" dy="0.36em">11</text>
<rect x="179.66" y="344.8" width="0.8" height="1.5" fill="#333"/>
<text x="193.83" y="348.7" text-anchor="middle" font-size="6.4" fill="#111" stroke="#111" stroke-width="0.35" dy="0.36em">12</text>
<rect x="193.73" y="344.8" width="0.8" height="1.5" fill="#333"/>
<text x="207.89" y="348.7" text-anchor="middle" font-size="6.4" fill="#111" stroke="#111" stroke-width="0.35" dy="0.36em">13</text>
<rect x="207.79" y="344.8" width="0.8" height="1.5" fill="#333"/>
<text x="221.95" y="348.7" text-anchor="middle" font-size="6.4" fill="#111" stroke="#111" stroke-width="0.35" dy="0.36em">14</text>
<rect x="221.85" y="344.8" width="0.8" height="1.5" fill="#333"/>
<text x="236.02" y="348.7" text-anchor="middle" font-size="6.4" fill="#111" stroke="#111" stroke-width="0.35" dy="0.36em">15</text>
<rect x="235.92" y="344.8" width="0.8" height="1.5" fill="#333"/>
<text x="250.08" y="348.7" text-anchor="middle" font-size="6.4" fill="#111" stroke="#111" stroke-width="0.35" dy="0.36em">16</text>
<rect x="249.98" y="344.8" width="0.8" height="1.5" fill="#333"/>
<text x="264.14" y="348.7" text-anchor="middle" font-size="6.4" fill="#111" stroke="#111" stroke-width="0.35" dy="0.36em">17</text>
<rect x="264.04" y="344.8" width="0.8" height="1.5" fill="#333"/>
<text x="278.21" y="348.7" text-anchor="middle" font-size="6.4" fill="#111" stroke="#111" stroke-width="0.35" dy="0.36em">18</text>
<rect x="278.11" y="344.8" width="0.8" height="1.5" fill="#333"/>
<text x="292.27" y="348.7" text-anchor="middle" font-size="6.4" fill="#111" stroke="#111" stroke-width="0.35" dy="0.36em">19</text>
<rect x="292.17" y="344.8" width="0.8" height="1.5" fill="#333"/>
<text x="166.4" y="355.7" text-anchor="middle" font-size="7.8" fill="#000" stroke="#000" stroke-width="0.45" dy="0.36em">OTU</text>
<text transform="translate(5.2 272.4) rotate(-90)" text-anchor="middle" font-size="7.8" fill="#000" stroke="#000" stroke-width="0.5" dy="0.36em">proportion</text>
<text x="78" y="188.3" text-anchor="middle" font-family="'Liberation Sans', sans-serif" font-weight="normal" font-size="10.3" dy="0.33em">(b)</text>
<rect x="316.8" y="256.7" width="6.65" height="6.65" fill="#FF0000"/>
<text x="324.35" y="260.62" text-anchor="start" font-size="7.7" fill="#000" stroke="#000" stroke-width="0.45" dy="0.36em">p1_type 1</text>
<rect x="316.8" y="263.35" width="6.65" height="6.65" fill="#FF9E9E"/>
<text x="324.35" y="267.27" text-anchor="start" font-size="7.7" fill="#000" stroke="#000" stroke-width="0.45" dy="0.36em">p1_type 2</text>
<rect x="316.8" y="270" width="6.65" height="6.65" fill="#3300CC"/>
<text x="324.35" y="273.93" text-anchor="start" font-size="7.7" fill="#000" stroke="#000" stroke-width="0.45" dy="0.36em">p2_type 1</text>
<rect x="316.8" y="276.65" width="6.65" height="6.65" fill="#1C96F5"/>
<text x="324.35" y="280.57" text-anchor="start" font-size="7.7" fill="#000" stroke="#000" stroke-width="0.45" dy="0.36em">p2_type 2</text>
<rect x="316.8" y="283.3" width="6.65" height="6.65" fill="#9DF9FF"/>
<text x="324.35" y="287.23" text-anchor="start" font-size="7.7" fill="#000" stroke="#000" stroke-width="0.45" dy="0.36em">p2_type 3</text>
<!-- panel (c) -->
<rect x="19.2" y="384" width="293.2" height="145.2" fill="#EEEEEE"/>
<rect x="19.2" y="497.6" width="293.2" height="0.8" fill="#FBFBFB"/>
<rect x="19.2" y="497.6" width="293.2" height="0.8" fill="#FBFBFB"/>
<rect x="19.2" y="448.6" width="293.2" height="0.8" fill="#FBFBFB"/>
<rect x="19.2" y="448.6" width="293.2" height="0.8" fill="#FBFBFB"/>
<rect x="19.2" y="399.6" width="293.2" height="0.8" fill="#FBFBFB"/>
<rect x="32" y="384" width="0.8" height="145.2" fill="#FBFBFB"/>
<rect x="47.71" y="384" width="0.8" height="145.2" fill="#FBFBFB"/>
<rect x="63.41" y="384" width="0.8" height="145.2" fill="#FBFBFB"/>
<rect x="79.12" y="384" width="0.8" height="145.2" fill="#FBFBFB"/>
<rect x="94.82" y="384" width="0.8" height="145.2" fill="#FBFBFB"/>
<rect x="110.53" y="384" width="0.8" height="145.2" fill="#FBFBFB"/>
<rect x="126.24" y="384" width="0.8" height="145.2" fill="#FBFBFB"/>
<rect x="141.94" y="384" width="0.8" height="145.2" fill="#FBFBFB"/>
<rect x="157.65" y="384" width="0.8" height="145.2" fill="#FBFBFB"/>
<rect x="173.35" y="384" width="0.8" height="145.2" fill="#FBFBFB"/>
<rect x="189.06" y="384" width="0.8" height="145.2" fill="#FBFBFB"/>
<rect x="204.76" y="384" width="0.8" height="145.2" fill="#FBFBFB"/>
<rect x="220.47" y="384" width="0.8" height="145.2" fill="#FBFBFB"/>
<rect x="236.18" y="384" width="0.8" height="145.2" fill="#FBFBFB"/>
<rect x="251.88" y="384" width="0.8" height="145.2" fill="#FBFBFB"/>
<rect x="267.59" y="384" width="0.8" height="145.2" fill="#FBFBFB"/>
<rect x="283.29" y="384" width="0.8" height="145.2" fill="#FBFBFB"/>
<rect x="299" y="384" width="0.8" height="145.2" fill="#FBFBFB"/>
<rect x="19.2" y="522" width="293.2" height="1" fill="#FFFFFF"/>
<rect x="19.2" y="473" width="293.2" height="1" fill="#FFFFFF"/>
<rect x="19.2" y="424" width="293.2" height="1" fill="#FFFFFF"/>
<rect x="39.75" y="384" width="1" height="145.2" fill="#FFFFFF"/>
<rect x="55.46" y="384" width="1" height="145.2" fill="#FFFFFF"/>
<rect x="71.16" y="384" width="1" height="145.2" fill="#FFFFFF"/>
<rect x="86.87" y="384" width="1" height="145.2" fill="#FFFFFF"/>
<rect x="102.58" y="384" width="1" height="145.2" fill="#FFFFFF"/>
<rect x="118.28" y="384" width="1" height="145.2" fill="#FFFFFF"/>
<rect x="133.99" y="384" width="1" height="145.2" fill="#FFFFFF"/>
<rect x="149.69" y="384" width="1" height="145.2" fill="#FFFFFF"/>
<rect x="165.4" y="384" width="1" height="145.2" fill="#FFFFFF"/>
<rect x="181.11" y="384" width="1" height="145.2" fill="#FFFFFF"/>
<rect x="196.81" y="384" width="1" height="145.2" fill="#FFFFFF"/>
<rect x="212.52" y="384" width="1" height="145.2" fill="#FFFFFF"/>
<rect x="228.22" y="384" width="1" height="145.2" fill="#FFFFFF"/>
<rect x="243.93" y="384" width="1" height="145.2" fill="#FFFFFF"/>
<rect x="259.64" y="384" width="1" height="145.2" fill="#FFFFFF"/>
<rect x="275.34" y="384" width="1" height="145.2" fill="#FFFFFF"/>
<rect x="291.05" y="384" width="1" height="145.2" fill="#FFFFFF"/>
<rect x="32.99" y="497.51" width="3.23" height="25.39" fill="#FF0000"/>
<rect x="35.81" y="515.15" width="3.23" height="7.75" fill="#FC9292"/>
<rect x="38.64" y="390.89" width="3.23" height="132.01" fill="#3300CC"/>
<rect x="41.47" y="521.52" width="3.23" height="1.38" fill="#1C96F5"/>
<rect x="48.69" y="510.5" width="3.23" height="12.4" fill="#FF0000"/>
<rect x="51.52" y="509.27" width="3.23" height="13.63" fill="#FC9292"/>
<rect x="54.35" y="449.98" width="3.23" height="72.92" fill="#3300CC"/>
<rect x="57.17" y="519.07" width="3.23" height="3.83" fill="#1C96F5"/>
<rect x="64.4" y="504.37" width="3.23" height="18.53" fill="#FF0000"/>
<rect x="67.22" y="476.44" width="3.23" height="46.46" fill="#FC9292"/>
<rect x="70.05" y="518.09" width="3.23" height="4.81" fill="#3300CC"/>
<rect x="72.88" y="422.69" width="3.23" height="100.21" fill="#1C96F5"/>
<rect x="75.71" y="522" width="3.23" height="0.9" fill="#9DF9FF"/>
<rect x="80.1" y="515.15" width="3.23" height="7.75" fill="#FF0000"/>
<rect x="82.93" y="502.41" width="3.23" height="20.49" fill="#FC9292"/>
<rect x="85.76" y="521.03" width="3.23" height="1.87" fill="#3300CC"/>
<rect x="88.58" y="509.27" width="3.23" height="13.63" fill="#1C96F5"/>
<rect x="91.41" y="497.51" width="3.23" height="25.39" fill="#9DF9FF"/>
<rect x="95.81" y="516.62" width="3.23" height="6.28" fill="#FF0000"/>
<rect x="98.64" y="504.86" width="3.23" height="18.04" fill="#FC9292"/>
<rect x="101.46" y="521.03" width="3.23" height="1.87" fill="#3300CC"/>
<rect x="104.29" y="507.31" width="3.23" height="15.59" fill="#1C96F5"/>
<rect x="107.12" y="495.55" width="3.23" height="27.35" fill="#9DF9FF"/>
<rect x="111.51" y="519.07" width="3.23" height="3.83" fill="#FF0000"/>
<rect x="114.34" y="514.17" width="3.23" height="8.73" fill="#FC9292"/>
<rect x="117.17" y="521.03" width="3.23" height="1.87" fill="#3300CC"/>
<rect x="120" y="517.6" width="3.23" height="5.3" fill="#1C96F5"/>
<rect x="122.82" y="497.02" width="3.23" height="25.88" fill="#9DF9FF"/>
<rect x="127.22" y="505.84" width="3.23" height="17.06" fill="#FF0000"/>
<rect x="130.05" y="521.52" width="3.23" height="1.38" fill="#FC9292"/>
<rect x="132.87" y="520.05" width="3.23" height="2.85" fill="#3300CC"/>
<rect x="135.7" y="518.58" width="3.23" height="4.32" fill="#1C96F5"/>
<rect x="142.93" y="515.15" width="3.23" height="7.75" fill="#FF0000"/>
<rect x="145.75" y="522" width="3.23" height="0.9" fill="#FC9292"/>
<rect x="148.58" y="488.2" width="3.23" height="34.7" fill="#3300CC"/>
<rect x="151.41" y="522" width="3.23" height="0.9" fill="#1C96F5"/>
<rect x="158.63" y="516.13" width="3.23" height="6.77" fill="#FF0000"/>
<rect x="161.46" y="522" width="3.23" height="0.9" fill="#FC9292"/>
<rect x="164.29" y="498" width="3.23" height="24.9" fill="#3300CC"/>
<rect x="167.11" y="522" width="3.23" height="0.9" fill="#1C96F5"/>
<rect x="174.34" y="522" width="3.23" height="0.9" fill="#FF0000"/>
<rect x="177.17" y="518.58" width="3.23" height="4.32" fill="#FC9292"/>
<rect x="179.99" y="521.52" width="3.23" height="1.38" fill="#3300CC"/>
<rect x="182.82" y="520.54" width="3.23" height="2.36" fill="#1C96F5"/>
<rect x="185.65" y="504.37" width="3.23" height="18.53" fill="#9DF9FF"/>
<rect x="190.04" y="522" width="3.23" height="0.9" fill="#FF0000"/>
<rect x="192.87" y="488.69" width="3.23" height="34.21" fill="#FC9292"/>
<rect x="195.7" y="522" width="3.23" height="0.9" fill="#3300CC"/>
<rect x="198.53" y="516.13" width="3.23" height="6.77" fill="#1C96F5"/>
<rect x="201.35" y="522" width="3.23" height="0.9" fill="#9DF9FF"/>
<rect x="205.75" y="518.09" width="3.23" height="4.81" fill="#FF0000"/>
<rect x="208.58" y="507.31" width="3.23" height="15.59" fill="#FC9292"/>
<rect x="211.4" y="522" width="3.23" height="0.9" fill="#3300CC"/>
<rect x="214.23" y="488.2" width="3.23" height="34.7" fill="#1C96F5"/>
<rect x="217.06" y="519.07" width="3.23" height="3.83" fill="#9DF9FF"/>
<rect x="221.46" y="518.58" width="3.23" height="4.32" fill="#FF0000"/>
<rect x="224.28" y="504.37" width="3.23" height="18.53" fill="#FC9292"/>
<rect x="227.11" y="522" width="3.23" height="0.9" fill="#3300CC"/>
<rect x="229.94" y="516.13" width="3.23" height="6.77" fill="#1C96F5"/>
<rect x="232.76" y="522" width="3.23" height="0.9" fill="#9DF9FF"/>
<rect x="237.16" y="520.54" width="3.23" height="2.36" fill="#FF0000"/>
<rect x="239.99" y="519.07" width="3.23" height="3.83" fill="#FC9292"/>
<rect x="242.82" y="522" width="3.23" height="0.9" fill="#3300CC"/>
<rect x="245.64" y="522" width="3.23" height="0.9" fill="#1C96F5"/>
<rect x="248.47" y="504.86" width="3.23" height="18.04" fill="#9DF9FF"/>
<rect x="252.87" y="521.03" width="3.23" height="1.87" fill="#FF0000"/>
<rect x="255.69" y="518.09" width="3.23" height="4.81" fill="#FC9292"/>
<rect x="261.35" y="522" width="3.23" height="0.9" fill="#1C96F5"/>
<rect x="264.18" y="501.92" width="3.23" height="20.98" fill="#9DF9FF"/>
<rect x="268.57" y="521.03" width="3.23" height="1.87" fill="#FF0000"/>
<rect x="271.4" y="521.03" width="3.23" height="1.87" fill="#FC9292"/>
<rect x="274.23" y="522" width="3.23" height="0.9" fill="#3300CC"/>
<rect x="277.05" y="518.58" width="3.23" height="4.32" fill="#1C96F5"/>
<rect x="279.88" y="504.86" width="3.23" height="18.04" fill="#9DF9FF"/>
<rect x="284.28" y="521.03" width="3.23" height="1.87" fill="#FF0000"/>
<rect x="287.11" y="517.6" width="3.23" height="5.3" fill="#FC9292"/>
<rect x="292.76" y="522" width="3.23" height="0.9" fill="#1C96F5"/>
<rect x="295.59" y="498" width="3.23" height="24.9" fill="#9DF9FF"/>
<rect x="32.05" y="384" width="1.9" height="145.2" fill="#6A6A6A"/>
<rect x="63.85" y="384" width="1.9" height="145.2" fill="#6A6A6A"/>
<rect x="126.25" y="384" width="1.5" height="145.2" fill="#000000"/>
<rect x="204.65" y="384" width="1.9" height="145.2" fill="#6A6A6A"/>
<rect x="251.65" y="384" width="1.9" height="145.2" fill="#6A6A6A"/>
<rect x="283.45" y="384" width="1.5" height="145.2" fill="#000000"/>
<rect x="298.55" y="384" width="1.5" height="145.2" fill="#000000"/>
<text transform="translate(44.45 497.92) rotate(-90)" text-anchor="start" font-size="7.38" fill="#000" stroke="#000" stroke-width="0.5" dy="0.36em">Unclassified</text>
<text transform="translate(60.16 497.92) rotate(-90)" text-anchor="start" font-size="7.38" fill="#000" stroke="#000" stroke-width="0.5" dy="0.36em">Unclassified</text>
<text transform="translate(75.86 497.92) rotate(-90)" text-anchor="start" font-size="7.38" fill="#000" stroke="#000" stroke-width="0.5" dy="0.36em">Staphylococcus</text>
<text transform="translate(91.57 497.92) rotate(-90)" text-anchor="start" font-size="7.38" fill="#000" stroke="#000" stroke-width="0.5" dy="0.36em">Streptococcus</text>
<text transform="translate(107.28 497.92) rotate(-90)" text-anchor="start" font-size="7.38" fill="#000" stroke="#000" stroke-width="0.5" dy="0.36em">Streptococcus</text>
<text transform="translate(122.53 497.92) rotate(-90)" text-anchor="start" font-size="7.38" fill="#000" stroke="#000" stroke-width="0.5" dy="0.36em">Streptococcus</text>
<text transform="translate(137.99 497.92) rotate(-90)" text-anchor="start" font-size="7.38" fill="#000" stroke="#000" stroke-width="0.5" dy="0.36em">Pasteurellaceae(family)</text>
<text transform="translate(153.94 497.92) rotate(-90)" text-anchor="start" font-size="7.38" fill="#000" stroke="#000" stroke-width="0.5" dy="0.36em">Pseudomonas</text>
<text transform="translate(170.05 497.92) rotate(-90)" text-anchor="start" font-size="7.38" fill="#000" stroke="#000" stroke-width="0.5" dy="0.36em">Pseudomonas</text>
<text transform="translate(185.36 497.92) rotate(-90)" text-anchor="start" font-size="7.38" fill="#000" stroke="#000" stroke-width="0.5" dy="0.36em">Haemophilus</text>
<text transform="translate(200.21 497.92) rotate(-90)" text-anchor="start" font-size="7.38" fill="#000" stroke="#000" stroke-width="0.5" dy="0.36em">Acinetobacter</text>
<text transform="translate(216.67 497.92) rotate(-90)" text-anchor="start" font-size="7.38" fill="#000" stroke="#000" stroke-width="0.5" dy="0.36em">Corynebacterium</text>
<text transform="translate(232.67 497.92) rotate(-90)" text-anchor="start" font-size="7.38" fill="#000" stroke="#000" stroke-width="0.5" dy="0.36em">Corynebacterium</text>
<text transform="translate(249.03 497.92) rotate(-90)" text-anchor="start" font-size="7.38" fill="#000" stroke="#000" stroke-width="0.5" dy="0.36em">Actinomyces</text>
<text transform="translate(265.34 497.92) rotate(-90)" text-anchor="start" font-size="7.38" fill="#000" stroke="#000" stroke-width="0.5" dy="0.36em">Neisseria</text>
<text transform="translate(280.34 497.92) rotate(-90)" text-anchor="start" font-size="7.38" fill="#000" stroke="#000" stroke-width="0.5" dy="0.36em">Neisseria</text>
<text transform="translate(296.45 497.92) rotate(-90)" text-anchor="start" font-size="7.38" fill="#000" stroke="#000" stroke-width="0.5" dy="0.36em">Fusobacterium</text>
<text transform="translate(49.1 382.6) rotate(-90)" text-anchor="end" font-size="7.38" fill="#000" stroke="#000" stroke-width="0.5" dy="0.36em">Cyanobacteria(phylum)</text>
<text transform="translate(98.5 382.6) rotate(-90)" text-anchor="end" font-size="7.38" fill="#000" stroke="#000" stroke-width="0.5" dy="0.36em">Bacilli</text>
<text transform="translate(167.7 382.6) rotate(-90)" text-anchor="end" font-size="7.38" fill="#000" stroke="#000" stroke-width="0.5" dy="0.36em">Gammaproteobacteria</text>
<text transform="translate(213.5 382.6) rotate(-90)" text-anchor="end" font-size="7.38" fill="#000" stroke="#000" stroke-width="0.5" dy="0.36em">Actinobacteria</text>
<text transform="translate(271.5 382.6) rotate(-90)" text-anchor="end" font-size="7.38" fill="#000" stroke="#000" stroke-width="0.5" dy="0.36em">Betaproteobacteria</text>
<text transform="translate(292 382.6) rotate(-90)" text-anchor="end" font-size="7.38" fill="#000" stroke="#000" stroke-width="0.5" dy="0.36em">Fusobacteria</text>
<text x="17.3" y="523.1" text-anchor="end" font-size="6.4" fill="#444" stroke="#444" stroke-width="0.35" dy="0.36em">0.0</text>
<rect x="17.5" y="522.1" width="1.7" height="0.8" fill="#333"/>
<text x="17.3" y="474.1" text-anchor="end" font-size="6.4" fill="#444" stroke="#444" stroke-width="0.35" dy="0.36em">0.1</text>
<rect x="17.5" y="473.1" width="1.7" height="0.8" fill="#333"/>
<text x="17.3" y="425.1" text-anchor="end" font-size="6.4" fill="#444" stroke="#444" stroke-width="0.35" dy="0.36em">0.2</text>
<rect x="17.5" y="424.1" width="1.7" height="0.8" fill="#333"/>
<text x="39.95" y="532.8" text-anchor="middle" font-size="6.4" fill="#111" stroke="#111" stroke-width="0.35" dy="0.36em">1</text>
<rect x="39.85" y="529.2" width="0.8" height="1.5" fill="#333"/>
<text x="55.66" y="532.8" text-anchor="middle" font-size="6.4" fill="#111" stroke="#111" stroke-width="0.35" dy="0.36em">2</text>
<rect x="55.56" y="529.2" width="0.8" height="1.5" fill="#333"/>
<text x="71.36" y="532.8" text-anchor="middle" font-size="6.4" fill="#111" stroke="#111" stroke-width="0.35" dy="0.36em">3</text>
<rect x="71.26" y="529.2" width="0.8" height="1.5" fill="#333"/>
<text x="87.07" y="532.8" text-anchor="middle" font-size="6.4" fill="#111" stroke="#111" stroke-width="0.35" dy="0.36em">4</text>
<rect x="86.97" y="529.2" width="0.8" height="1.5" fill="#333"/>
<text x="102.78" y="532.8" text-anchor="middle" font-size="6.4" fill="#111" stroke="#111" stroke-width="0.35" dy="0.36em">5</text>
<rect x="102.68" y="529.2" width="0.8" height="1.5" fill="#333"/>
<text x="118.48" y="532.8" text-anchor="middle" font-size="6.4" fill="#111" stroke="#111" stroke-width="0.35" dy="0.36em">6</text>
<rect x="118.38" y="529.2" width="0.8" height="1.5" fill="#333"/>
<text x="134.19" y="532.8" text-anchor="middle" font-size="6.4" fill="#111" stroke="#111" stroke-width="0.35" dy="0.36em">7</text>
<rect x="134.09" y="529.2" width="0.8" height="1.5" fill="#333"/>
<text x="149.89" y="532.8" text-anchor="middle" font-size="6.4" fill="#111" stroke="#111" stroke-width="0.35" dy="0.36em">8</text>
<rect x="149.79" y="529.2" width="0.8" height="1.5" fill="#333"/>
<text x="165.6" y="532.8" text-anchor="middle" font-size="6.4" fill="#111" stroke="#111" stroke-width="0.35" dy="0.36em">9</text>
<rect x="165.5" y="529.2" width="0.8" height="1.5" fill="#333"/>
<text x="181.31" y="532.8" text-anchor="middle" font-size="6.4" fill="#111" stroke="#111" stroke-width="0.35" dy="0.36em">10</text>
<rect x="181.21" y="529.2" width="0.8" height="1.5" fill="#333"/>
<text x="197.01" y="532.8" text-anchor="middle" font-size="6.4" fill="#111" stroke="#111" stroke-width="0.35" dy="0.36em">11</text>
<rect x="196.91" y="529.2" width="0.8" height="1.5" fill="#333"/>
<text x="212.72" y="532.8" text-anchor="middle" font-size="6.4" fill="#111" stroke="#111" stroke-width="0.35" dy="0.36em">12</text>
<rect x="212.62" y="529.2" width="0.8" height="1.5" fill="#333"/>
<text x="228.42" y="532.8" text-anchor="middle" font-size="6.4" fill="#111" stroke="#111" stroke-width="0.35" dy="0.36em">13</text>
<rect x="228.32" y="529.2" width="0.8" height="1.5" fill="#333"/>
<text x="244.13" y="532.8" text-anchor="middle" font-size="6.4" fill="#111" stroke="#111" stroke-width="0.35" dy="0.36em">14</text>
<rect x="244.03" y="529.2" width="0.8" height="1.5" fill="#333"/>
<text x="259.84" y="532.8" text-anchor="middle" font-size="6.4" fill="#111" stroke="#111" stroke-width="0.35" dy="0.36em">15</text>
<rect x="259.74" y="529.2" width="0.8" height="1.5" fill="#333"/>
<text x="275.54" y="532.8" text-anchor="middle" font-size="6.4" fill="#111" stroke="#111" stroke-width="0.35" dy="0.36em">16</text>
<rect x="275.44" y="529.2" width="0.8" height="1.5" fill="#333"/>
<text x="291.25" y="532.8" text-anchor="middle" font-size="6.4" fill="#111" stroke="#111" stroke-width="0.35" dy="0.36em">17</text>
<rect x="291.15" y="529.2" width="0.8" height="1.5" fill="#333"/>
<text x="166.6" y="540.1" text-anchor="middle" font-size="7.8" fill="#000" stroke="#000" stroke-width="0.45" dy="0.36em">OTU</text>
<text transform="translate(5.2 456.6) rotate(-90)" text-anchor="middle" font-size="7.8" fill="#000" stroke="#000" stroke-width="0.5" dy="0.36em">proportion</text>
<text x="73.2" y="373" text-anchor="middle" font-family="'Liberation Serif', serif" font-weight="bold" font-size="9.5" dy="0.33em">(c)</text>
<rect x="316.8" y="440.8" width="6.65" height="6.65" fill="#FF0000"/>
<text x="324.35" y="444.73" text-anchor="start" font-size="7.7" fill="#000" stroke="#000" stroke-width="0.45" dy="0.36em">p1_type 1</text>
<rect x="316.8" y="447.45" width="6.65" height="6.65" fill="#FF9E9E"/>
<text x="324.35" y="451.38" text-anchor="start" font-size="7.7" fill="#000" stroke="#000" stroke-width="0.45" dy="0.36em">p1_type 2</text>
<rect x="316.8" y="454.1" width="6.65" height="6.65" fill="#3300CC"/>
<text x="324.35" y="458.03" text-anchor="start" font-size="7.7" fill="#000" stroke="#000" stroke-width="0.45" dy="0.36em">p2_type 1</text>
<rect x="316.8" y="460.75" width="6.65" height="6.65" fill="#1C96F5"/>
<text x="324.35" y="464.68" text-anchor="start" font-size="7.7" fill="#000" stroke="#000" stroke-width="0.45" dy="0.36em">p2_type 2</text>
<rect x="316.8" y="467.4" width="6.65" height="6.65" fill="#9DF9FF"/>
<text x="324.35" y="471.33" text-anchor="start" font-size="7.7" fill="#000" stroke="#000" stroke-width="0.45" dy="0.36em">p2_type 3</text>
<!-- panel (d) -->
<rect x="20.8" y="568.8" width="289" height="144.4" fill="#EEEEEE"/>
<rect x="20.8" y="690.09" width="289" height="0.8" fill="#FBFBFB"/>
<rect x="20.8" y="690.09" width="289" height="0.8" fill="#FBFBFB"/>
<rect x="20.8" y="657.66" width="289" height="0.8" fill="#FBFBFB"/>
<rect x="20.8" y="657.66" width="289" height="0.8" fill="#FBFBFB"/>
<rect x="20.8" y="625.24" width="289" height="0.8" fill="#FBFBFB"/>
<rect x="20.8" y="625.24" width="289" height="0.8" fill="#FBFBFB"/>
<rect x="20.8" y="592.81" width="289" height="0.8" fill="#FBFBFB"/>
<rect x="20.8" y="592.81" width="289" height="0.8" fill="#FBFBFB"/>
<rect x="32.8" y="568.8" width="0.8" height="144.4" fill="#FBFBFB"/>
<rect x="53.2" y="568.8" width="0.8" height="144.4" fill="#FBFBFB"/>
<rect x="73.6" y="568.8" width="0.8" height="144.4" fill="#FBFBFB"/>
<rect x="94" y="568.8" width="0.8" height="144.4" fill="#FBFBFB"/>
<rect x="114.4" y="568.8" width="0.8" height="144.4" fill="#FBFBFB"/>
<rect x="134.8" y="568.8" width="0.8" height="144.4" fill="#FBFBFB"/>
<rect x="155.2" y="568.8" width="0.8" height="144.4" fill="#FBFBFB"/>
<rect x="175.6" y="568.8" width="0.8" height="144.4" fill="#FBFBFB"/>
<rect x="196" y="568.8" width="0.8" height="144.4" fill="#FBFBFB"/>
<rect x="216.4" y="568.8" width="0.8" height="144.4" fill="#FBFBFB"/>
<rect x="236.8" y="568.8" width="0.8" height="144.4" fill="#FBFBFB"/>
<rect x="257.2" y="568.8" width="0.8" height="144.4" fill="#FBFBFB"/>
<rect x="277.6" y="568.8" width="0.8" height="144.4" fill="#FBFBFB"/>
<rect x="298" y="568.8" width="0.8" height="144.4" fill="#FBFBFB"/>
<rect x="20.8" y="706.2" width="289" height="1" fill="#FFFFFF"/>
<rect x="20.8" y="673.78" width="289" height="1" fill="#FFFFFF"/>
<rect x="20.8" y="641.35" width="289" height="1" fill="#FFFFFF"/>
<rect x="20.8" y="608.93" width="289" height="1" fill="#FFFFFF"/>
<rect x="20.8" y="576.5" width="289" height="1" fill="#FFFFFF"/>
<rect x="42.9" y="568.8" width="1" height="144.4" fill="#FFFFFF"/>
<rect x="63.3" y="568.8" width="1" height="144.4" fill="#FFFFFF"/>
<rect x="83.7" y="568.8" width="1" height="144.4" fill="#FFFFFF"/>
<rect x="104.1" y="568.8" width="1" height="144.4" fill="#FFFFFF"/>
<rect x="124.5" y="568.8" width="1" height="144.4" fill="#FFFFFF"/>
<rect x="144.9" y="568.8" width="1" height="144.4" fill="#FFFFFF"/>
<rect x="165.3" y="568.8" width="1" height="144.4" fill="#FFFFFF"/>
<rect x="185.7" y="568.8" width="1" height="144.4" fill="#FFFFFF"/>
<rect x="206.1" y="568.8" width="1" height="144.4" fill="#FFFFFF"/>
<rect x="226.5" y="568.8" width="1" height="144.4" fill="#FFFFFF"/>
<rect x="246.9" y="568.8" width="1" height="144.4" fill="#FFFFFF"/>
<rect x="267.3" y="568.8" width="1" height="144.4" fill="#FFFFFF"/>
<rect x="287.7" y="568.8" width="1" height="144.4" fill="#FFFFFF"/>
<rect x="34.02" y="624.81" width="4.99" height="82.29" fill="#FF0000"/>
<rect x="38.61" y="686.44" width="4.99" height="20.66" fill="#FC9292"/>
<rect x="43.2" y="613.25" width="4.99" height="93.85" fill="#3300CC"/>
<rect x="47.79" y="697.03" width="4.99" height="10.07" fill="#68CAF6"/>
<rect x="54.42" y="685.8" width="4.99" height="21.3" fill="#FF0000"/>
<rect x="59.01" y="694.47" width="4.99" height="12.64" fill="#FC9292"/>
<rect x="63.6" y="672.32" width="4.99" height="34.78" fill="#3300CC"/>
<rect x="68.19" y="703.77" width="4.99" height="3.33" fill="#68CAF6"/>
<rect x="74.82" y="689.97" width="4.99" height="17.13" fill="#FF0000"/>
<rect x="79.41" y="696.26" width="4.99" height="10.84" fill="#FC9292"/>
<rect x="84" y="684.51" width="4.99" height="22.59" fill="#3300CC"/>
<rect x="88.59" y="704.42" width="4.99" height="2.68" fill="#68CAF6"/>
<rect x="95.22" y="681.95" width="4.99" height="25.15" fill="#FF0000"/>
<rect x="99.81" y="701.85" width="4.99" height="5.25" fill="#FC9292"/>
<rect x="104.4" y="699.92" width="4.99" height="7.18" fill="#3300CC"/>
<rect x="108.99" y="706.2" width="4.99" height="0.9" fill="#68CAF6"/>
<rect x="115.62" y="682.59" width="4.99" height="24.51" fill="#FF0000"/>
<rect x="120.21" y="700.56" width="4.99" height="6.54" fill="#FC9292"/>
<rect x="124.8" y="670" width="4.99" height="37.1" fill="#3300CC"/>
<rect x="129.39" y="706.2" width="4.99" height="0.9" fill="#68CAF6"/>
<rect x="136.02" y="683.87" width="4.99" height="23.23" fill="#FF0000"/>
<rect x="140.61" y="703.77" width="4.99" height="3.33" fill="#FC9292"/>
<rect x="145.2" y="699.28" width="4.99" height="7.82" fill="#3300CC"/>
<rect x="156.42" y="703.77" width="4.99" height="3.33" fill="#FF0000"/>
<rect x="161.01" y="683.23" width="4.99" height="23.87" fill="#FC9292"/>
<rect x="165.6" y="699.92" width="4.99" height="7.18" fill="#3300CC"/>
<rect x="170.19" y="703.13" width="4.99" height="3.97" fill="#68CAF6"/>
<rect x="176.82" y="704.42" width="4.99" height="2.68" fill="#FF0000"/>
<rect x="181.41" y="693.5" width="4.99" height="13.6" fill="#FC9292"/>
<rect x="186" y="706.2" width="4.99" height="0.9" fill="#3300CC"/>
<rect x="190.59" y="659.48" width="4.99" height="47.62" fill="#68CAF6"/>
<rect x="197.22" y="704.42" width="4.99" height="2.68" fill="#FF0000"/>
<rect x="201.81" y="699.92" width="4.99" height="7.18" fill="#FC9292"/>
<rect x="206.4" y="706.2" width="4.99" height="0.9" fill="#3300CC"/>
<rect x="210.99" y="685.8" width="4.99" height="21.3" fill="#68CAF6"/>
<rect x="217.62" y="692.47" width="4.99" height="14.63" fill="#FF0000"/>
<rect x="222.21" y="689.26" width="4.99" height="17.84" fill="#FC9292"/>
<rect x="226.8" y="703.13" width="4.99" height="3.97" fill="#3300CC"/>
<rect x="231.39" y="597.2" width="4.99" height="109.9" fill="#68CAF6"/>
<rect x="238.02" y="696.71" width="4.99" height="10.39" fill="#FF0000"/>
<rect x="242.61" y="681.95" width="4.99" height="25.15" fill="#FC9292"/>
<rect x="247.2" y="704.42" width="4.99" height="2.68" fill="#3300CC"/>
<rect x="251.79" y="575.37" width="4.99" height="131.73" fill="#68CAF6"/>
<rect x="258.42" y="695.75" width="4.99" height="11.35" fill="#FF0000"/>
<rect x="263.01" y="706.2" width="4.99" height="0.9" fill="#FC9292"/>
<rect x="267.6" y="706.2" width="4.99" height="0.9" fill="#3300CC"/>
<rect x="272.19" y="678.09" width="4.99" height="29.01" fill="#68CAF6"/>
<rect x="278.82" y="696.26" width="4.99" height="10.84" fill="#FF0000"/>
<rect x="283.41" y="706.2" width="4.99" height="0.9" fill="#FC9292"/>
<rect x="288" y="706.2" width="4.99" height="0.9" fill="#3300CC"/>
<rect x="292.59" y="682.59" width="4.99" height="24.51" fill="#68CAF6"/>
<rect x="32.65" y="568.8" width="1.9" height="144.4" fill="#6A6A6A"/>
<rect x="93.45" y="568.8" width="1.9" height="144.4" fill="#6A6A6A"/>
<rect x="134.55" y="568.8" width="1.9" height="144.4" fill="#4A4A4A"/>
<rect x="215.55" y="568.8" width="1.9" height="144.4" fill="#555555"/>
<rect x="257.55" y="568.8" width="1.5" height="144.4" fill="#000000"/>
<rect x="276.85" y="568.8" width="1.9" height="144.4" fill="#6A6A6A"/>
<rect x="297.85" y="568.8" width="1.9" height="144.4" fill="#6A6A6A"/>
<text transform="translate(41.1 680.92) rotate(-90)" text-anchor="start" font-size="7.38" fill="#000" stroke="#000" stroke-width="0.5" dy="0.36em">Staphylococcus</text>
<text transform="translate(61.5 680.92) rotate(-90)" text-anchor="start" font-size="7.38" fill="#000" stroke="#000" stroke-width="0.5" dy="0.36em">Streptococcus</text>
<text transform="translate(81.9 680.92) rotate(-90)" text-anchor="start" font-size="7.38" fill="#000" stroke="#000" stroke-width="0.5" dy="0.36em">Streptococcus</text>
<text transform="translate(102.3 680.92) rotate(-90)" text-anchor="start" font-size="7.38" fill="#000" stroke="#000" stroke-width="0.5" dy="0.36em">Corynebacterium</text>
<text transform="translate(122.7 680.92) rotate(-90)" text-anchor="start" font-size="7.38" fill="#000" stroke="#000" stroke-width="0.5" dy="0.36em">Corynebacterium</text>
<text transform="translate(143.1 680.92) rotate(-90)" text-anchor="start" font-size="7.38" fill="#000" stroke="#000" stroke-width="0.5" dy="0.36em">Acinetobacter</text>
<text transform="translate(163.5 680.92) rotate(-90)" text-anchor="start" font-size="7.38" fill="#000" stroke="#000" stroke-width="0.5" dy="0.36em">Pasteurellaceae(family)</text>
<text transform="translate(183.9 680.92) rotate(-90)" text-anchor="start" font-size="7.38" fill="#000" stroke="#000" stroke-width="0.5" dy="0.36em">Pseudomonas</text>
<text transform="translate(204.3 680.92) rotate(-90)" text-anchor="start" font-size="7.38" fill="#000" stroke="#000" stroke-width="0.5" dy="0.36em">Pseudomonas</text>
<text transform="translate(224.7 680.92) rotate(-90)" text-anchor="start" font-size="7.38" fill="#000" stroke="#000" stroke-width="0.5" dy="0.36em">Unclassified</text>
<text transform="translate(245.1 680.92) rotate(-90)" text-anchor="start" font-size="7.38" fill="#000" stroke="#000" stroke-width="0.5" dy="0.36em">Unclassified</text>
<text transform="translate(265.5 680.92) rotate(-90)" text-anchor="start" font-size="7.38" fill="#000" stroke="#000" stroke-width="0.5" dy="0.36em">Comamonadaceae(family)</text>
<text transform="translate(285.9 680.92) rotate(-90)" text-anchor="start" font-size="7.38" fill="#000" stroke="#000" stroke-width="0.5" dy="0.36em">Flectobacillus</text>
<text transform="translate(64.6 567.1) rotate(-90)" text-anchor="end" font-size="7.38" fill="#000" stroke="#000" stroke-width="0.5" dy="0.36em">Bacilli</text>
<text transform="translate(115.6 567.1) rotate(-90)" text-anchor="end" font-size="7.38" fill="#000" stroke="#000" stroke-width="0.5" dy="0.36em">Actinobacteria</text>
<text transform="translate(177.6 567.1) rotate(-90)" text-anchor="end" font-size="7.38" fill="#000" stroke="#000" stroke-width="0.5" dy="0.36em">Gammaproteobacteria</text>
<text transform="translate(238.1 567.1) rotate(-90)" text-anchor="end" font-size="7.38" fill="#000" stroke="#000" stroke-width="0.5" dy="0.36em">Cyanobacteria(phylum)</text>
<text transform="translate(271.7 567.1) rotate(-90)" text-anchor="end" font-size="7.38" fill="#000" stroke="#000" stroke-width="0.5" dy="0.36em">Betaproteobacteria</text>
<text transform="translate(288.1 567.1) rotate(-90)" text-anchor="end" font-size="7.38" fill="#000" stroke="#000" stroke-width="0.5" dy="0.36em">Sphingobacteria</text>
<text x="18.9" y="706.7" text-anchor="end" font-size="6.4" fill="#444" stroke="#444" stroke-width="0.35" dy="0.36em">0.00</text>
<rect x="19.1" y="706.3" width="1.7" height="0.8" fill="#333"/>
<text x="18.9" y="674.28" text-anchor="end" font-size="6.4" fill="#444" stroke="#444" stroke-width="0.35" dy="0.36em">0.05</text>
<rect x="19.1" y="673.88" width="1.7" height="0.8" fill="#333"/>
<text x="18.9" y="641.85" text-anchor="end" font-size="6.4" fill="#444" stroke="#444" stroke-width="0.35" dy="0.36em">0.10</text>
<rect x="19.1" y="641.45" width="1.7" height="0.8" fill="#333"/>
<text x="18.9" y="609.43" text-anchor="end" font-size="6.4" fill="#444" stroke="#444" stroke-width="0.35" dy="0.36em">0.15</text>
<rect x="19.1" y="609.03" width="1.7" height="0.8" fill="#333"/>
<text x="18.9" y="577" text-anchor="end" font-size="6.4" fill="#444" stroke="#444" stroke-width="0.35" dy="0.36em">0.20</text>
<rect x="19.1" y="576.6" width="1.7" height="0.8" fill="#333"/>
<text x="43.1" y="717.4" text-anchor="middle" font-size="6.4" fill="#111" stroke="#111" stroke-width="0.35" dy="0.36em">1</text>
<rect x="43" y="713.2" width="0.8" height="1.5" fill="#333"/>
<text x="63.5" y="717.4" text-anchor="middle" font-size="6.4" fill="#111" stroke="#111" stroke-width="0.35" dy="0.36em">2</text>
<rect x="63.4" y="713.2" width="0.8" height="1.5" fill="#333"/>
<text x="83.9" y="717.4" text-anchor="middle" font-size="6.4" fill="#111" stroke="#111" stroke-width="0.35" dy="0.36em">3</text>
<rect x="83.8" y="713.2" width="0.8" height="1.5" fill="#333"/>
<text x="104.3" y="717.4" text-anchor="middle" font-size="6.4" fill="#111" stroke="#111" stroke-width="0.35" dy="0.36em">4</text>
<rect x="104.2" y="713.2" width="0.8" height="1.5" fill="#333"/>
<text x="124.7" y="717.4" text-anchor="middle" font-size="6.4" fill="#111" stroke="#111" stroke-width="0.35" dy="0.36em">5</text>
<rect x="124.6" y="713.2" width="0.8" height="1.5" fill="#333"/>
<text x="145.1" y="717.4" text-anchor="middle" font-size="6.4" fill="#111" stroke="#111" stroke-width="0.35" dy="0.36em">6</text>
<rect x="145" y="713.2" width="0.8" height="1.5" fill="#333"/>
<text x="165.5" y="717.4" text-anchor="middle" font-size="6.4" fill="#111" stroke="#111" stroke-width="0.35" dy="0.36em">7</text>
<rect x="165.4" y="713.2" width="0.8" height="1.5" fill="#333"/>
<text x="185.9" y="717.4" text-anchor="middle" font-size="6.4" fill="#111" stroke="#111" stroke-width="0.35" dy="0.36em">8</text>
<rect x="185.8" y="713.2" width="0.8" height="1.5" fill="#333"/>
<text x="206.3" y="717.4" text-anchor="middle" font-size="6.4" fill="#111" stroke="#111" stroke-width="0.35" dy="0.36em">9</text>
<rect x="206.2" y="713.2" width="0.8" height="1.5" fill="#333"/>
<text x="226.7" y="717.4" text-anchor="middle" font-size="6.4" fill="#111" stroke="#111" stroke-width="0.35" dy="0.36em">10</text>
<rect x="226.6" y="713.2" width="0.8" height="1.5" fill="#333"/>
<text x="247.1" y="717.4" text-anchor="middle" font-size="6.4" fill="#111" stroke="#111" stroke-width="0.35" dy="0.36em">11</text>
<rect x="247" y="713.2" width="0.8" height="1.5" fill="#333"/>
<text x="267.5" y="717.4" text-anchor="middle" font-size="6.4" fill="#111" stroke="#111" stroke-width="0.35" dy="0.36em">12</text>
<rect x="267.4" y="713.2" width="0.8" height="1.5" fill="#333"/>
<text x="287.9" y="717.4" text-anchor="middle" font-size="6.4" fill="#111" stroke="#111" stroke-width="0.35" dy="0.36em">13</text>
<rect x="287.8" y="713.2" width="0.8" height="1.5" fill="#333"/>
<text x="166.1" y="724.1" text-anchor="middle" font-size="7.8" fill="#000" stroke="#000" stroke-width="0.45" dy="0.36em">OTU</text>
<text transform="translate(2.8 641) rotate(-90)" text-anchor="middle" font-size="7.8" fill="#000" stroke="#000" stroke-width="0.5" dy="0.36em">proportion</text>
<text x="67.5" y="557.5" text-anchor="middle" font-family="'Liberation Serif', serif" font-weight="bold" font-size="9.5" dy="0.33em">(d)</text>
<rect x="314.7" y="629.2" width="6.5" height="6.5" fill="#FF0000"/>
<text x="322.1" y="633.05" text-anchor="start" font-size="7.7" fill="#000" stroke="#000" stroke-width="0.45" dy="0.36em">p1_type 1</text>
<rect x="314.7" y="635.7" width="6.5" height="6.5" fill="#FF9E9E"/>
<text x="322.1" y="639.55" text-anchor="start" font-size="7.7" fill="#000" stroke="#000" stroke-width="0.45" dy="0.36em">p1_type 2</text>
<rect x="314.7" y="642.2" width="6.5" height="6.5" fill="#3300CC"/>
<text x="322.1" y="646.05" text-anchor="start" font-size="7.7" fill="#000" stroke="#000" stroke-width="0.45" dy="0.36em">p2_type 1</text>
<rect x="314.7" y="648.7" width="6.5" height="6.5" fill="#68CAF6"/>
<text x="322.1" y="652.55" text-anchor="start" font-size="7.7" fill="#000" stroke="#000" stroke-width="0.45" dy="0.36em">p2_type 2</text>
</svg>
</body></html>
